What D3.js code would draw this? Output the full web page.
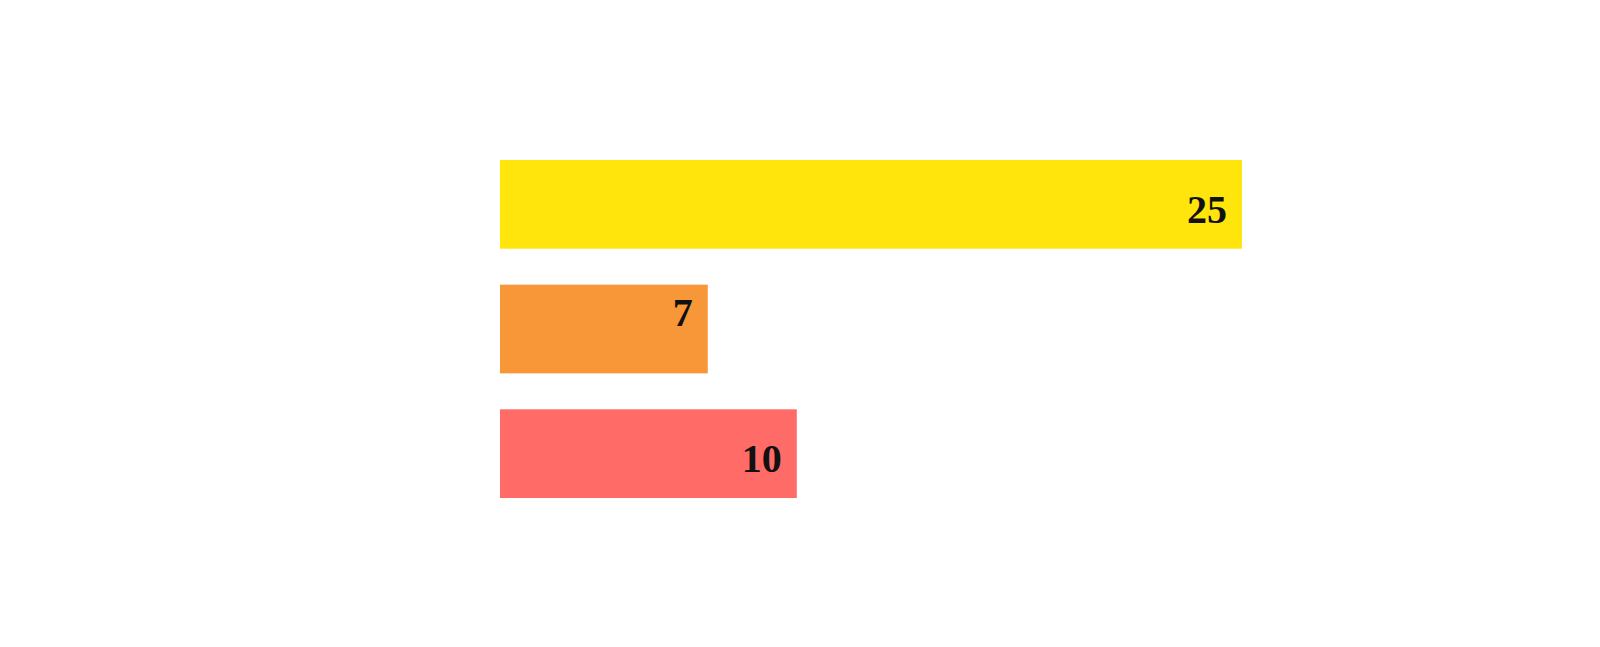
<!DOCTYPE html>
<html>
<head>
<meta charset="utf-8">
<script src="https://cdn.jsdelivr.net/npm/d3@7"></script>
<style>
  html, body { margin: 0; padding: 0; background: #fff; }
  svg { display: block; }
</style>
</head>
<body>
<div id="chart"></div>
<script>
(function() {
  var categories = ['A', 'B', 'C'];
  var values = [25, 7, 10];
  var colors = ['#ffe50b', '#f89738', '#ff6b66'];

  var width = 1600, height = 647;
  // label baseline below bar top (the short bar has its label raised)
  var labelDy = [63, 41, 63];

  var svg = d3.select('#chart').append('svg')
    .attr('width', width)
    .attr('height', height);

  var x = d3.scaleLinear().domain([0, 25]).range([500, 1242]);

  var y = d3.scaleBand()
    .domain(categories)
    .range([160, 498])
    .paddingInner(0.2885)
    .paddingOuter(0);

  var rows = categories.map(function(c, i) {
    return { cat: c, value: values[i], color: colors[i], i: i };
  });

  svg.selectAll('rect.bar').data(rows).enter().append('rect')
    .attr('class', 'bar')
    .attr('x', x(0))
    .attr('y', function(d) { return y(d.cat); })
    .attr('width', function(d) { return x(d.value) - x(0); })
    .attr('height', y.bandwidth())
    .attr('fill', function(d) { return d.color; });

  svg.selectAll('text.val').data(rows).enter().append('text')
    .attr('class', 'val')
    .attr('x', function(d) { return x(d.value) - 15; })
    .attr('y', function(d) { return y(d.cat) + labelDy[d.i]; })
    .attr('text-anchor', 'end')
    .attr('font-family', '"Liberation Serif", "DejaVu Serif", serif')
    .attr('font-weight', 'bold')
    .attr('font-size', '40px')
    .attr('fill', '#111')
    .text(function(d) { return d.value; });
})();
</script>
</body>
</html>
